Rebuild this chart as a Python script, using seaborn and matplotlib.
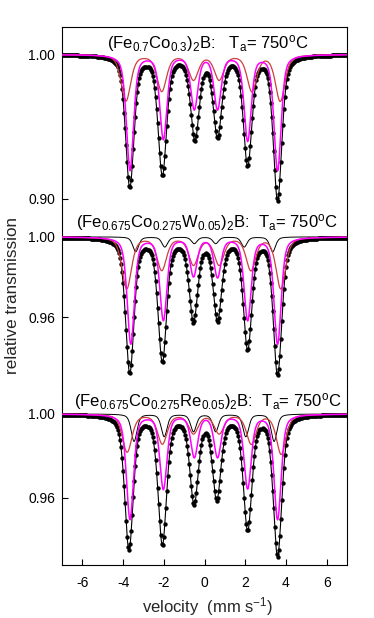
import numpy as np
import pandas as pd
import matplotlib
matplotlib.use("Agg")
import matplotlib.pyplot as plt
import seaborn as sns

# ---------------- data ----------------
titles = [
    r"(Fe$_{0.7}$Co$_{0.3}$)$_2$B:   T$_a$= 750$^{o}$C",
    r"(Fe$_{0.675}$Co$_{0.275}$W$_{0.05}$)$_2$B:  T$_a$= 750$^{o}$C",
    r"(Fe$_{0.675}$Co$_{0.275}$Re$_{0.05}$)$_2$B:  T$_a$= 750$^{o}$C",
]
ylims = [(0.8947, 1.019), (0.9259, 1.0152), (0.928, 1.0135)]
yticks = [[0.90, 1.00], [0.96, 1.00], [0.96, 1.00]]
xticks = [-6, -4, -2, 0, 2, 4, 6]

# line positions (mm/s) and depths of each sextet
tot1_pos = [-3.67, -2.07, -0.47, 0.64, 2.12, 3.59]
tot1_dep = [0.091, 0.082, 0.057, 0.055, 0.075, 0.100]
mag1_pos = [-3.66, -2.02, -0.50, 0.64, 2.12, 3.59]
mag1_dep = [0.080, 0.058, 0.037, 0.037, 0.059, 0.080]
red1_pos = [-3.86, -2.10, -0.54, 0.72, 2.33, 3.72]
red1_dep = [0.032, 0.025, 0.017, 0.017, 0.025, 0.032]

tot2_pos = [-3.67, -2.07, -0.54, 0.64, 2.12, 3.59]
tot2_dep = [0.067, 0.061, 0.0405, 0.040, 0.0546, 0.068]
mag2_pos = [-3.62, -2.02, -0.54, 0.64, 2.12, 3.59]
mag2_dep = [0.053, 0.041, 0.019, 0.0195, 0.041, 0.053]
red2_pos = [-3.82, -2.10, -0.54, 0.72, 2.28, 3.75]
red2_dep = [0.0256, 0.0162, 0.0135, 0.0135, 0.0162, 0.0256]
blk2_pos = [-3.38, -1.95, -0.50, 0.55, 1.95, 3.35]
blk2_dep = [0.0074, 0.005, 0.0033, 0.0033, 0.005, 0.0074]

tot3_pos = [-3.71, -2.07, -0.51, 0.60, 2.12, 3.59]
tot3_dep = [0.064, 0.061, 0.041, 0.039, 0.054, 0.067]
mag3_pos = [-3.66, -2.02, -0.50, 0.64, 2.12, 3.59]
mag3_dep = [0.050, 0.0354, 0.020, 0.020, 0.035, 0.050]
red3_pos = [-3.80, -2.07, -0.54, 0.72, 2.30, 3.77]
red3_dep = [0.018, 0.014, 0.009, 0.009, 0.014, 0.019]
blk3_pos = [-3.46, -1.98, -0.54, 0.55, 2.03, 3.42]
blk3_dep = [0.013, 0.0107, 0.0083, 0.0083, 0.0107, 0.013]

# ---------------- style ----------------
sns.set_theme(style="ticks")
plt.rcParams["font.family"] = ["Liberation Sans", "DejaVu Sans"]
plt.rcParams["mathtext.fontset"] = "custom"
plt.rcParams["mathtext.rm"] = "Liberation Sans"
plt.rcParams["mathtext.default"] = "regular"

MAG = "#ff00ff"
RED = "#cc3f3f"


def sextet(v, pos, dep, hwhm, eta=0.5):
    a = np.zeros_like(v)
    for p, d in zip(pos, dep):
        u = ((v - p) / hwhm) ** 2
        a += d * (eta / (1 + u) + (1 - eta) * np.exp(-np.log(2) * u))
    return 1 - a


vfine = np.linspace(-7, 7, 1401)
vch = np.linspace(-7, 7, 281)

panels = [
    dict(tot=(tot1_pos, tot1_dep), mag=(mag1_pos, mag1_dep), red=(red1_pos, red1_dep), blk=None),
    dict(tot=(tot2_pos, tot2_dep), mag=(mag2_pos, mag2_dep), red=(red2_pos, red2_dep), blk=(blk2_pos, blk2_dep)),
    dict(tot=(tot3_pos, tot3_dep), mag=(mag3_pos, mag3_dep), red=(red3_pos, red3_dep), blk=(blk3_pos, blk3_dep)),
]

W, H = 374, 618
fig = plt.figure(figsize=(W / 100, H / 100), dpi=100)
left = 62 / W
width = (347 - 62) / W
bot = 1 - 565 / H
top = 1 - 27 / H
ph = (top - bot) / 3

for i, pan in enumerate(panels):
    ax = fig.add_axes([left, top - (i + 1) * ph, width, ph])
    tp, td = pan["tot"]
    dots = pd.DataFrame({"v": vch, "t": sextet(vch, tp, td, 0.25)})
    sns.scatterplot(data=dots, x="v", y="t", ax=ax, s=10, color="black",
                    linewidth=0, zorder=2)
    fit = pd.DataFrame({"v": vfine, "t": sextet(vfine, tp, td, 0.25)})
    sns.lineplot(data=fit, x="v", y="t", ax=ax, color="black", lw=0.8,
                 sort=False, estimator=None, zorder=3)
    if pan["blk"] is not None:
        bp, bd = pan["blk"]
        df = pd.DataFrame({"v": vfine, "t": sextet(vfine, bp, bd, 0.17)})
        sns.lineplot(data=df, x="v", y="t", ax=ax, color="black", lw=0.7,
                     sort=False, estimator=None, zorder=4)
    rp, rd = pan["red"]
    df = pd.DataFrame({"v": vfine, "t": sextet(vfine, rp, rd, 0.28)})
    sns.lineplot(data=df, x="v", y="t", ax=ax, color=RED, lw=0.9,
                 sort=False, estimator=None, zorder=5)
    mp, md = pan["mag"]
    df = pd.DataFrame({"v": vfine, "t": sextet(vfine, mp, md, 0.21)})
    sns.lineplot(data=df, x="v", y="t", ax=ax, color=MAG, lw=1.1,
                 sort=False, estimator=None, zorder=6)

    ax.set_xlim(-7, 7)
    ax.set_ylim(*ylims[i])
    ax.set_yticks(yticks[i])
    ax.set_yticklabels([f"{t:.2f}" for t in yticks[i]])
    ax.set_xticks(xticks)
    ax.set_xlabel("")
    ax.set_ylabel("")
    ax.tick_params(axis="y", direction="in", length=4.5, width=0.8,
                   labelsize=10, pad=5, colors="black")
    ax.tick_params(axis="x", direction="in", length=4.5, width=0.8,
                   labelsize=10, pad=8, colors="black")
    for s in ax.spines.values():
        s.set_linewidth(0.8)
        s.set_color("black")
    if i != 0:
        ax.spines["top"].set_visible(False)
    if i != 2:
        ax.spines["bottom"].set_visible(False)
        ax.tick_params(axis="x", bottom=False, labelbottom=False)
    else:
        ax.set_xticklabels([str(t) for t in xticks])
    ax.text(0.51, 0.883, titles[i], transform=ax.transAxes, ha="center",
            va="baseline", fontsize=12, color="black")

fig.text(13 / W, 1 - 296 / H, "relative transmission", rotation=90,
         ha="center", va="center", fontsize=12.3)
fig.text(207.5 / W, 1 - 612 / H, r"velocity  (mm s$^{-1}$)", ha="center",
         va="baseline", fontsize=12)

fig.savefig("out.png", dpi=100)
